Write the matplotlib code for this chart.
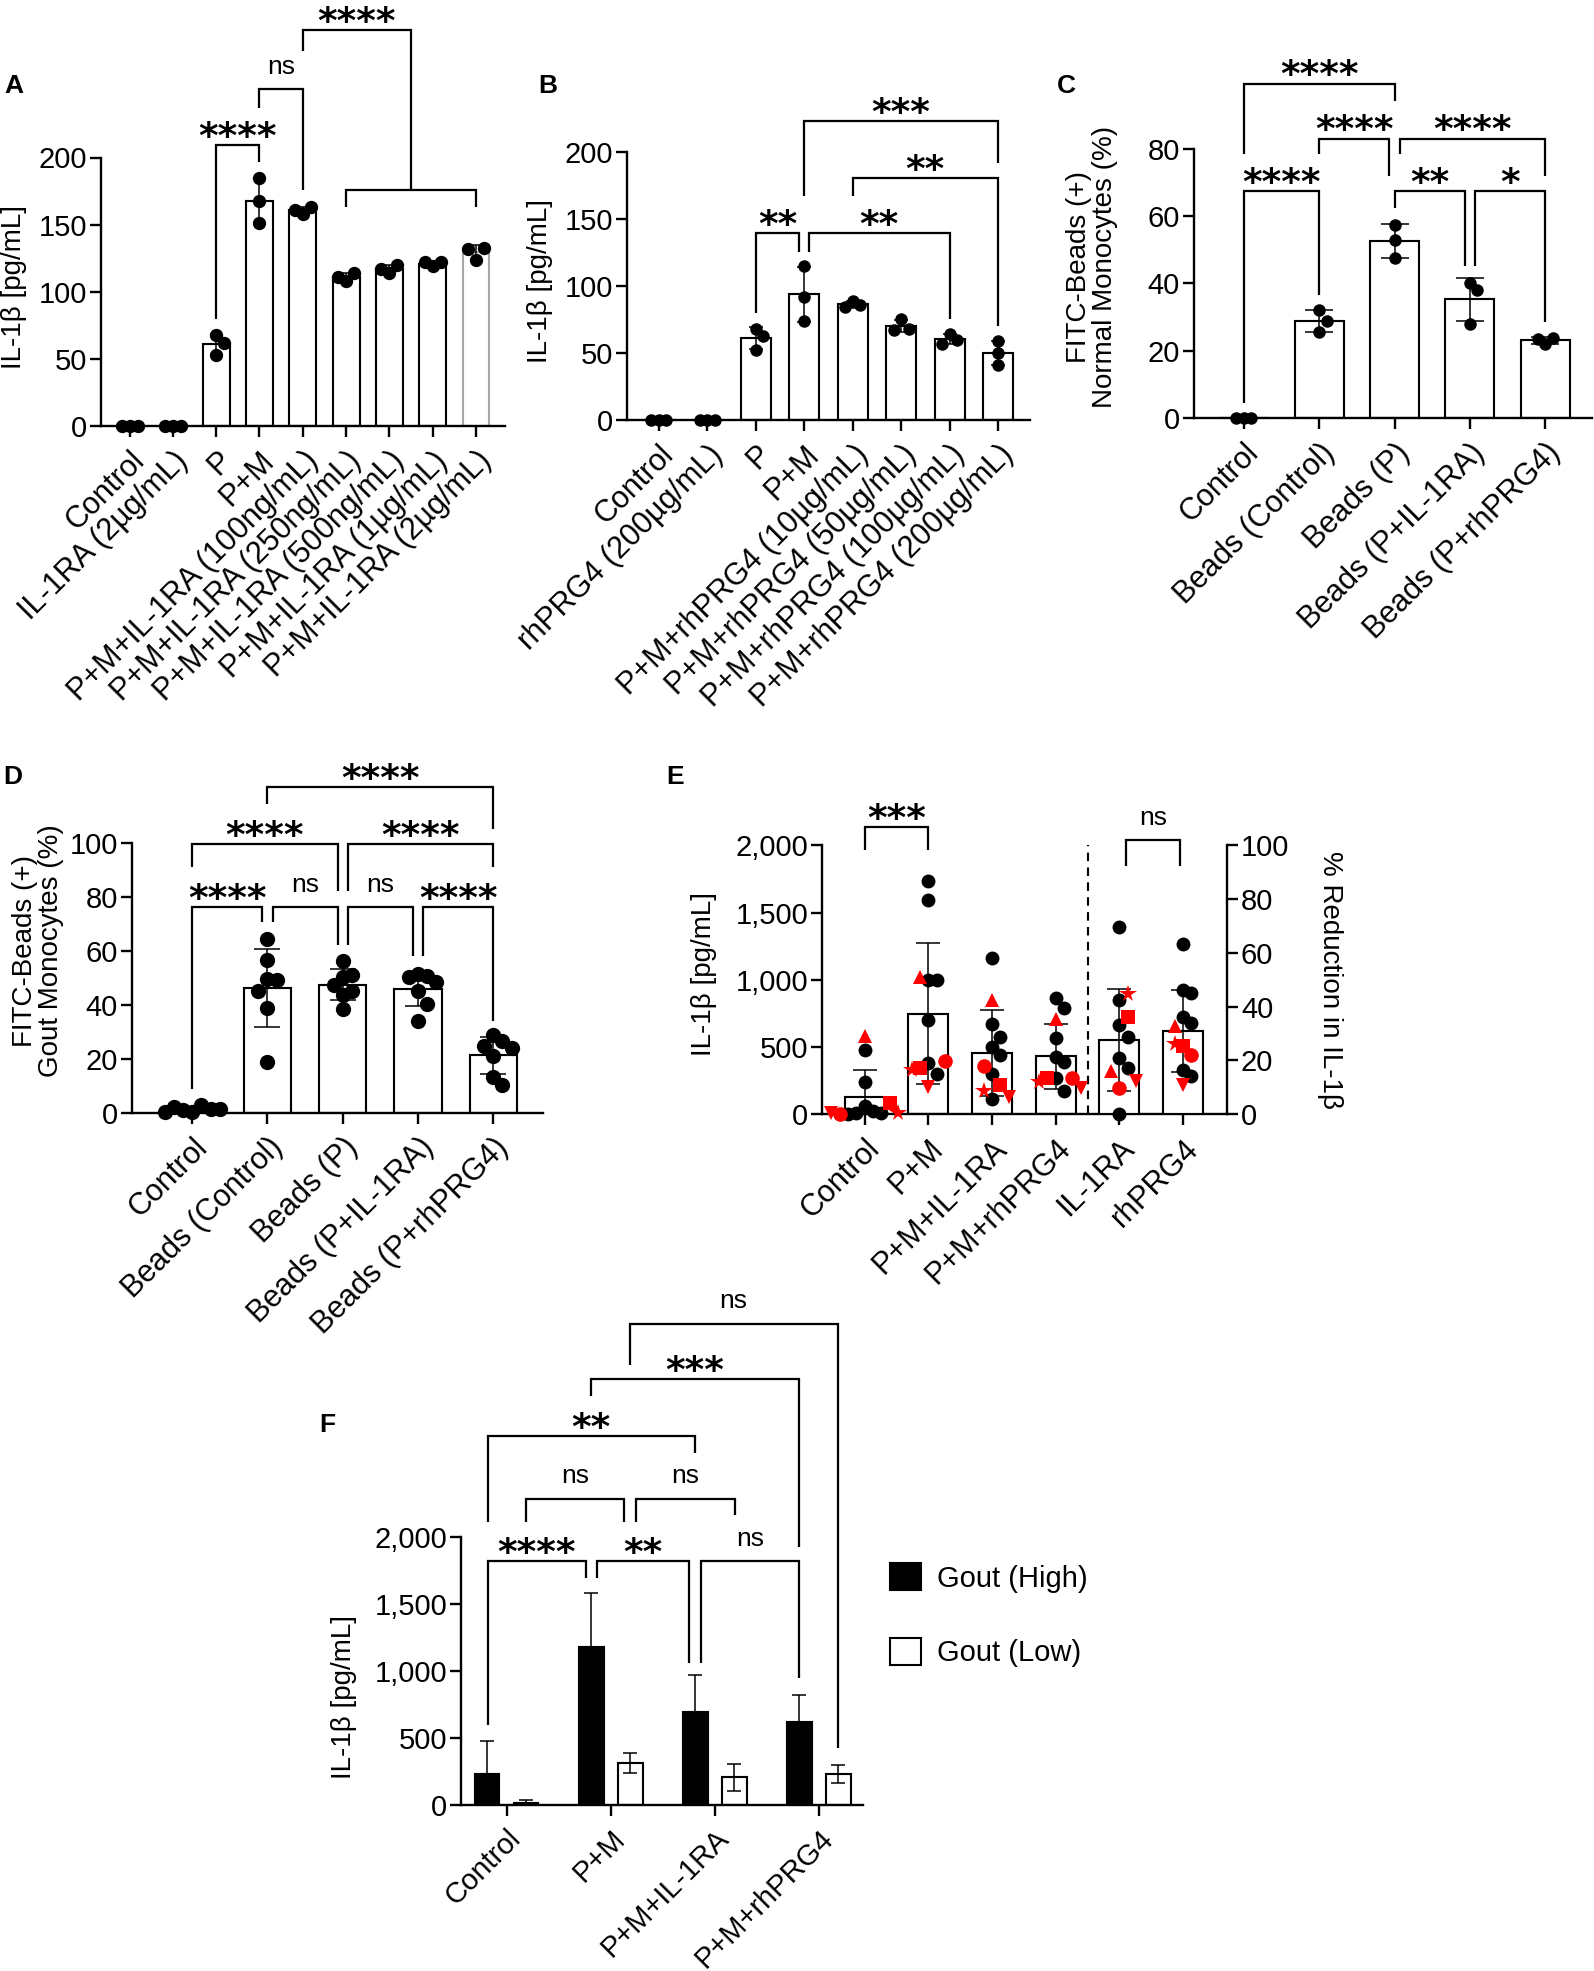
import numpy as np
import matplotlib
matplotlib.use('Agg')
import matplotlib.pyplot as plt
from matplotlib.patches import Patch
from matplotlib.ticker import FuncFormatter

plt.rcParams['font.family'] = ['Liberation Sans', 'DejaVu Sans']

# ---------------- data ----------------
a_labels = ['Control', 'IL-1RA (2µg/mL)', 'P', 'P+M',
            'P+M+IL-1RA (100ng/mL)', 'P+M+IL-1RA (250ng/mL)',
            'P+M+IL-1RA (500ng/mL)', 'P+M+IL-1RA (1µg/mL)', 'P+M+IL-1RA (2µg/mL)']
a_points = [[0, 0, 0], [0, 0, 0], [68, 62, 53], [185, 168, 151], [158, 163, 161],
            [108, 114, 111], [114, 120, 117], [119, 122, 122], [124, 133, 132]]

b_labels = ['Control', 'rhPRG4 (200µg/mL)', 'P', 'P+M',
            'P+M+rhPRG4 (10µg/mL)', 'P+M+rhPRG4 (50µg/mL)',
            'P+M+rhPRG4 (100µg/mL)', 'P+M+rhPRG4 (200µg/mL)']
b_points = [[0, 0, 0], [0, 0, 0], [68, 63, 52], [115, 92, 74], [89, 86, 84],
            [75, 68, 67], [64, 60, 57], [59, 50, 41]]

c_labels = ['Control', 'Beads (Control)', 'Beads (P)', 'Beads (P+IL-1RA)', 'Beads (P+rhPRG4)']
c_points = [[0, 0, 0], [32, 29, 25.7], [57.5, 53, 47.5], [40, 38, 28], [22, 23.8, 23.5]]

d_labels = c_labels
d_points = [[0.5, 3.0, 1.0, 1.5, 2.0, 1.5, 0.5],
            [64.4, 56.6, 49.7, 49.3, 45.2, 39.0, 18.9],
            [56.2, 51.1, 50.3, 47.3, 45.2, 43.8, 38.4],
            [51.6, 50.7, 50.3, 48.6, 45.2, 40.4, 34.2],
            [28.8, 26.7, 24.7, 24.2, 21.0, 13.4, 10.3]]

e_labels = ['Control', 'P+M', 'P+M+IL-1RA', 'P+M+rhPRG4', 'IL-1RA', 'rhPRG4']
# IL-1b (pg/mL) for first four groups, % reduction for the last two
e_black = [[476, 237, 60, 20, 10, 5, 0],
           [1735, 1592, 1000, 995, 697, 380, 297],
           [1160, 669, 573, 496, 441, 297, 110],
           [862, 793, 567, 421, 388, 270, 174],
           [69.6, 42.4, 33.2, 28.6, 20.8, 17.0, 0.0],
           [63.4, 46.3, 45.2, 36.2, 33.7, 16.5, 14.2]]
e_red_markers = ['^', 's', 'o', '*', 'v']
e_red = [[578, 80, 0, 5, 8],
         [1019, 339, 394, 330, 201],
         [848, 215, 358, 174, 124],
         [711, 270, 270, 237, 193],
         [16.0, 36.2, 9.6, 44.5, 12.4],
         [32.8, 25.2, 22.0, 25.9, 10.7]]

f_labels = ['Control', 'P+M', 'P+M+IL-1RA', 'P+M+rhPRG4']
f_high_mean = [226, 1175, 692, 616]
f_high_sd = [250, 406, 276, 203]
f_low_mean = [10, 310, 206, 233]
f_low_sd = [27, 76, 100, 67]

# ---------------- helpers ----------------
W, H = 1594, 1971
fig = plt.figure(figsize=(W / 100, H / 100), dpi=100)

LW = 1.7
TICK_FS = 21
CAT_FS = 22
LAB_FS = 20


def px_axes(l, r, t, b):
    return fig.add_axes([l / W, 1 - b / H, (r - l) / W, (b - t) / H])


def style(ax, n, xlim, ylim, yticks, labels, cat_fs=CAT_FS):
    ax.set_xlim(*xlim)
    ax.set_ylim(*ylim)
    for s in ['top', 'right']:
        ax.spines[s].set_visible(False)
    for s in ['left', 'bottom']:
        ax.spines[s].set_linewidth(LW)
    ax.set_yticks(yticks)
    ax.set_xticks(range(n))
    ax.set_xticklabels(labels, rotation=45, ha='right', rotation_mode='anchor',
                       fontsize=cat_fs)
    ax.tick_params(width=LW, length=8)
    ax.tick_params(axis='y', labelsize=TICK_FS, pad=2)
    ax.tick_params(axis='x', pad=6)


def swarm(ax, x0, vals, ms):
    # simple beeswarm: shift a point sideways while it overlaps an earlier one
    diam = ms * fig.dpi / 72
    ys = ax.transData.transform(np.column_stack([np.full(len(vals), x0), vals]))[:, 1]
    step = 0.6 * diam
    placed = []
    for y in ys:
        for k in [0, 1, -1, 2, -2, 3, -3, 4, -4]:
            dx = k * step
            if all(abs(dx - px) >= step * 0.99 or abs(y - py) >= diam * 0.95 for px, py in placed):
                break
        placed.append((dx, y))
    x0p = ax.transData.transform((x0, 0))[0]
    xs = [ax.transData.inverted().transform((x0p + p[0], 0))[0] for p in placed]
    return np.array(xs)


def dot_bars(ax, points, ms, width=0.62, capsize=4.5, edgecolors=None):
    for i, pts in enumerate(points):
        pts = np.array(pts, float)
        m = pts.mean()
        sd = pts.std(ddof=1)
        ec = 'k' if edgecolors is None else edgecolors[i]
        ax.bar(i, m, width, color='white', edgecolor=ec, linewidth=LW * 0.9, zorder=2)
        ax.errorbar(i, m, yerr=sd, fmt='none', ecolor='k', elinewidth=1.1,
                    capsize=capsize, capthick=1.1, zorder=3)
        ax.plot(swarm(ax, i, pts, ms), pts, 'o', color='k', ms=ms, zorder=4,
                clip_on=False, markeredgewidth=0)


def bracket(ax, x1, x2, y, y1, y2, text):
    ax.plot([x1, x1, x2, x2], [y1, y, y, y2], color='k', lw=LW * 0.95,
            clip_on=False, solid_joinstyle='miter', solid_capstyle='butt')
    if text is None:
        return
    if text == 'ns':
        ax.annotate(text, ((x1 + x2) / 2, y), xytext=(0, 11), textcoords='offset points',
                    ha='center', va='baseline', fontsize=19, annotation_clip=False)
    else:
        ax.annotate(text, ((x1 + x2) / 2, y), xytext=(0, -2), textcoords='offset points',
                    ha='center', va='baseline', fontsize=27, fontweight='bold',
                    family='DejaVu Sans', annotation_clip=False)


def panel_letter(x, y, s):
    fig.text(x / W, 1 - y / H, s, fontsize=19, fontweight='bold', ha='left', va='center')


# ---------------- A ----------------
ax = px_axes(101, 505, 157.5, 426.3)
style(ax, 9, (-0.66, 8.67), (0, 200), [0, 50, 100, 150, 200], a_labels)
dot_bars(ax, a_points, 9.6, width=0.62, capsize=4.5,
         edgecolors=['k'] * 8 + ['#a8a8a8'])
ax.set_ylabel('IL-1β [pg/mL]', fontsize=LAB_FS)
ax.yaxis.set_label_coords(-0.183, 0.52)
for br in [(2, 3, 209, 80, 196.5, '****'),
           (3, 4, 251, 237, 176, 'ns'),
           (5, 8, 176, 163, 163, None),
           (4, 6.5, 295, 279, 176, '****')]:
    bracket(ax, *br)
panel_letter(4, 86, 'A')

# ---------------- B ----------------
ax = px_axes(627, 1030, 151.8, 420)
style(ax, 8, (-0.66, 7.66), (0, 200), [0, 50, 100, 150, 200], b_labels)
dot_bars(ax, b_points, 9, capsize=5)
ax.set_ylabel('IL-1β [pg/mL]', fontsize=LAB_FS)
ax.yaxis.set_label_coords(-0.184, 0.52)
for br in [(2, 2.9, 139.4, 80, 125, '**'),
           (3.1, 6, 139.4, 125, 75, '**'),
           (4, 7, 180.6, 166.7, 70, '**'),
           (3, 7, 222.6, 166.7, 191.6, '***')]:
    bracket(ax, *br)
panel_letter(538, 86, 'B')

# ---------------- C ----------------
ax = px_axes(1194, 1592, 148.7, 418.3)
style(ax, 5, (-0.66, 4.62), (0, 80), [0, 20, 40, 60, 80], c_labels)
dot_bars(ax, c_points, 9, width=0.65, capsize=10)
ax.set_ylabel('FITC-Beads (+)\nNormal Monocytes (%)', fontsize=LAB_FS, linespacing=1.0)
ax.yaxis.set_label_coords(-0.19, 0.56)
for br in [(0, 1, 67.4, 4.5, 36.7, '****'),
           (1, 1.93, 83, 78.4, 71.8, '****'),
           (0, 2, 99.3, 78.4, 94.3, '****'),
           (2, 2.93, 67.4, 62.5, 45.3, '**'),
           (3.07, 4, 67.4, 45.3, 28.7, '*'),
           (2.07, 4, 83, 78.4, 71.8, '****')]:
    bracket(ax, *br)
panel_letter(1057, 86, 'C')

# ---------------- D ----------------
ax = px_axes(132, 543, 842.8, 1112.9)
style(ax, 5, (-0.8, 4.66), (0, 100), [0, 20, 40, 60, 80, 100], d_labels)
dot_bars(ax, d_points, 11, width=0.63, capsize=9.5)
ax.set_ylabel('FITC-Beads (+)\nGout Monocytes (%)', fontsize=LAB_FS, linespacing=1.0)
ax.yaxis.set_label_coords(-0.165, 0.6)
for br in [(0, 0.93, 76.3, 8.9, 70.5, '****'),
           (1.07, 1.93, 76.3, 70.5, 62.3, 'ns'),
           (2.07, 2.93, 76.3, 62.3, 58.2, 'ns'),
           (3.07, 4, 76.3, 58.2, 34.2, '****'),
           (0, 1.93, 99.6, 91, 82.2, '****'),
           (2.07, 4, 99.6, 82.2, 91, '****'),
           (1, 4, 120.5, 114.4, 105, '****')]:
    bracket(ax, *br)
panel_letter(3, 777, 'D')

# ---------------- E ----------------
ax = px_axes(822, 1227, 845.4, 1114)
style(ax, 6, (-0.67, 5.69), (0, 2000), [0, 500, 1000, 1500, 2000], e_labels)
ax.yaxis.set_major_formatter(FuncFormatter(lambda v, p: f'{v:,.0f}'))
ax2 = ax.twinx()
ax2.set_xlim(-0.67, 5.69)
ax2.set_ylim(0, 100)
for s in ['top', 'left', 'bottom']:
    ax2.spines[s].set_visible(False)
ax2.spines['right'].set_linewidth(LW)
ax2.set_yticks([0, 20, 40, 60, 80, 100])
ax2.tick_params(width=LW, length=8, labelsize=TICK_FS, pad=2)
ms_e = 10
for i in range(6):
    tgt = ax if i < 4 else ax2
    allv = np.array(e_black[i] + e_red[i], float)
    m, sd = allv.mean(), allv.std(ddof=1)
    tgt.bar(i, m, 0.63, color='white', edgecolor='k', linewidth=LW * 0.9, zorder=2)
    tgt.errorbar(i, m, yerr=sd, fmt='none', ecolor='k', elinewidth=1.1,
                 capsize=8.5, capthick=1.1, zorder=3)
    xs = swarm(tgt, i, allv, ms_e)
    nb = len(e_black[i])
    tgt.plot(xs[:nb], e_black[i], 'o', color='k', ms=ms_e, zorder=4, clip_on=False,
             markeredgewidth=0)
    for j, mk in enumerate(e_red_markers):
        size = ms_e * (1.3 if mk == '*' else 1.05)
        tgt.plot(xs[nb + j], e_red[i][j], mk, color='red', ms=size, zorder=5,
                 clip_on=False, markeredgewidth=0)
ax.plot([3.5, 3.5], [0, 2000], color='k', lw=LW * 0.9, ls=(0, (4, 3)))
ax.set_ylabel('IL-1β [pg/mL]', fontsize=LAB_FS)
ax.yaxis.set_label_coords(-0.26, 0.52)
ax2.set_ylabel('% Reduction in IL-1β', fontsize=LAB_FS, rotation=270, va='bottom')
ax2.yaxis.set_label_coords(1.222, 0.5)
bracket(ax, 0, 1, 2138, 1964, 1964, '***')
bracket(ax2, 4.1, 4.95, 101.9, 92.3, 92.3, 'ns')
panel_letter(666, 777, 'E')

# ---------------- F ----------------
ax = px_axes(461, 862.5, 1536.5, 1804.8)
style(ax, 4, (-0.44, 3.42), (0, 2000), [0, 500, 1000, 1500, 2000], f_labels, cat_fs=21)
ax.yaxis.set_major_formatter(FuncFormatter(lambda v, p: f'{v:,.0f}'))
x = np.arange(4)
ax.bar(x - 0.19, f_high_mean, 0.24, color='black', edgecolor='k', linewidth=LW * 0.9,
       zorder=2, label='Gout (High)')
ax.errorbar(x - 0.19, f_high_mean, yerr=f_high_sd, fmt='none', ecolor='k', elinewidth=1.1,
            capsize=5, capthick=1.1, zorder=3)
ax.bar(x + 0.185, f_low_mean, 0.24, color='white', edgecolor='k', linewidth=LW * 0.9,
       zorder=2, label='Gout (Low)')
ax.errorbar(x + 0.185, f_low_mean, yerr=f_low_sd, fmt='none', ecolor='k', elinewidth=1.1,
            capsize=5, capthick=1.1, zorder=3)
ax.set_ylabel('IL-1β [pg/mL]', fontsize=LAB_FS)
ax.yaxis.set_label_coords(-0.26, 0.4)
for br in [(-0.185, 0.76, 1817, 592, 1690, '****'),
           (0.87, 1.75, 1817, 1690, 1058, '**'),
           (1.87, 2.81, 1817, 1058, 942, 'ns'),
           (0.185, 1.13, 2283, 2106, 2106, 'ns'),
           (1.24, 2.19, 2283, 2106, 2163, 'ns'),
           (-0.185, 1.81, 2749, 2106, 2622, '**'),
           (0.81, 2.81, 3171, 3045, 1923, '***'),
           (1.18, 3.18, 3587, 3281, 426, 'ns')]:
    bracket(ax, *br)
ax.legend(handles=[Patch(facecolor='black', edgecolor='k', lw=1.5, label='Gout (High)'),
                   Patch(facecolor='white', edgecolor='k', lw=1.5, label='Gout (Low)')],
          loc='upper left', bbox_to_anchor=(864 / W, 1 - 1537 / H),
          bbox_transform=fig.transFigure, frameon=False, fontsize=21,
          handlelength=1.05, handleheight=1.05, handletextpad=0.55, labelspacing=1.55)
panel_letter(319, 1425, 'F')

fig.savefig('out.png', dpi=100)
